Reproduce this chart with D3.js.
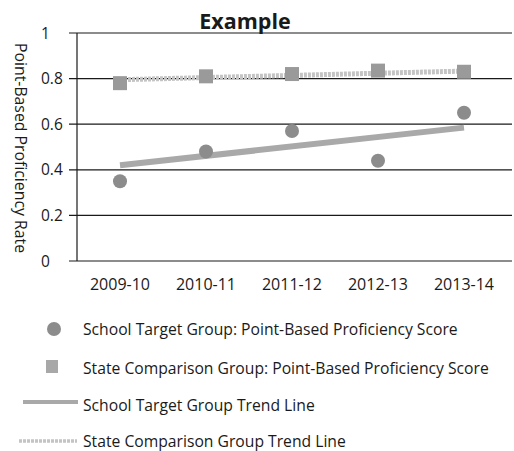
<!DOCTYPE html>
<html>
<head>
<meta charset="utf-8">
<script src="https://cdn.jsdelivr.net/npm/d3@7"></script>
<style>
  html, body { margin: 0; padding: 0; background: #fff; }
  svg { display: block; font-family: "Open Sans", Lato, "Liberation Sans", sans-serif; }
</style>
</head>
<body>
<svg id="chart" width="514" height="451"></svg>
<script>
// School years on the x axis
const years = ["2009-10", "2010-11", "2011-12", "2012-13", "2013-14"];
// Point-based proficiency scores
const schoolScores = [0.35, 0.48, 0.57, 0.44, 0.65];
const stateScores = [0.78, 0.81, 0.82, 0.835, 0.83];
// Trend line end values (first year, last year)
const schoolTrend = [0.42, 0.585];
const stateTrend = [0.795, 0.833];
// Y axis ticks
const yTicks = [0, 0.2, 0.4, 0.6, 0.8, 1];
// Legend entries
const legendLabels = [
  "School Target Group: Point-Based Proficiency Score",
  "State Comparison Group: Point-Based Proficiency Score",
  "School Target Group Trend Line",
  "State Comparison Group Trend Line"
];

const svg = d3.select("#chart");
const plotLeft = 77, plotRight = 507, plotTop = 33, plotBottom = 261;

const x = d3.scaleBand().domain(years).range([plotLeft, plotRight]);
const y = d3.scaleLinear().domain([0, 1]).range([plotBottom, plotTop]);
const cx = d => x(d) + x.bandwidth() / 2;

// Title
svg.append("text")
  .attr("x", 245).attr("y", 29)
  .attr("text-anchor", "middle")
  .attr("font-size", 21.5).attr("font-weight", "bold")
  .attr("fill", "#1a1a1a")
  .text("Example");

// Horizontal gridlines with tick stubs to the left of the axis
svg.append("g").selectAll("line")
  .data(yTicks)
  .join("line")
  .attr("x1", plotLeft - 8).attr("x2", 512)
  .attr("y1", d => y(d)).attr("y2", d => y(d))
  .attr("stroke", "#1a1a1a").attr("stroke-width", 1.2);

// Vertical axis line
svg.append("line")
  .attr("x1", plotLeft).attr("x2", plotLeft)
  .attr("y1", plotTop).attr("y2", plotBottom)
  .attr("stroke", "#1a1a1a").attr("stroke-width", 1.2);

// Y tick labels
svg.append("g").selectAll("text")
  .data(yTicks)
  .join("text")
  .attr("x", 41).attr("y", d => y(d) + 5.5)
  .attr("font-size", 15.5).attr("fill", "#1a1a1a")
  .text(d => d3.format("~g")(d));

// X labels
svg.append("g").selectAll("text")
  .data(years)
  .join("text")
  .attr("x", d => cx(d)).attr("y", 290)
  .attr("text-anchor", "middle")
  .attr("font-size", 16).attr("fill", "#1a1a1a")
  .text(d => d);

// Y axis title (rotated, reading downward)
svg.append("text")
  .attr("transform", "translate(15,148) rotate(90)")
  .attr("text-anchor", "middle")
  .attr("font-size", 15.8).attr("fill", "#1a1a1a")
  .text("Point-Based Proficiency Rate");

// Trend lines
const trendLine = d3.line()
  .x(d => d[0])
  .y(d => y(d[1]));
const ends = [cx(years[0]), cx(years[years.length - 1])];

svg.append("path")
  .datum(ends.map((e, i) => [e, schoolTrend[i]]))
  .attr("d", trendLine)
  .attr("stroke", "#a9a9a9").attr("stroke-width", 6)
  .attr("fill", "none");

svg.append("path")
  .datum(ends.map((e, i) => [e, stateTrend[i]]))
  .attr("d", trendLine)
  .attr("stroke", "#c4c4c4").attr("stroke-width", 5)
  .attr("stroke-dasharray", "3 1")
  .attr("fill", "none");

// State markers (squares)
svg.append("g").selectAll("rect")
  .data(stateScores)
  .join("rect")
  .attr("x", (d, i) => cx(years[i]) - 7)
  .attr("y", d => y(d) - 7)
  .attr("width", 14).attr("height", 14)
  .attr("fill", "#9a9a9a");

// School markers (circles)
svg.append("g").selectAll("circle")
  .data(schoolScores)
  .join("circle")
  .attr("cx", (d, i) => cx(years[i]))
  .attr("cy", d => y(d))
  .attr("r", 7)
  .attr("fill", "#8c8c8c");

// Legend
const lg = svg.append("g");
lg.append("circle").attr("cx", 54).attr("cy", 329).attr("r", 7).attr("fill", "#8c8c8c");
lg.append("rect").attr("x", 46).attr("y", 360).attr("width", 12).attr("height", 13).attr("fill", "#a8a8a8");
lg.append("line").attr("x1", 23).attr("x2", 78).attr("y1", 402).attr("y2", 402)
  .attr("stroke", "#a9a9a9").attr("stroke-width", 4);
lg.append("line").attr("x1", 19).attr("x2", 77).attr("y1", 441).attr("y2", 441)
  .attr("stroke", "#c4c4c4").attr("stroke-width", 3.5).attr("stroke-dasharray", "3 1");

const legendPos = [[83, 335], [83, 374], [83, 411], [83, 447]];
lg.selectAll("text")
  .data(legendLabels)
  .join("text")
  .attr("x", (d, i) => legendPos[i][0])
  .attr("y", (d, i) => legendPos[i][1])
  .attr("font-size", 15.7).attr("fill", "#1a1a1a")
  .text(d => d);
</script>
</body>
</html>
